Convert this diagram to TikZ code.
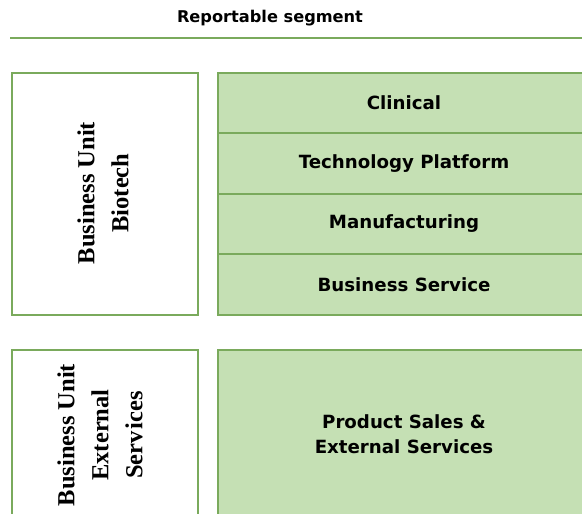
\documentclass[tikz,border=0pt]{standalone}
\usepackage{fontspec}
\setmainfont{Liberation Serif}
\newfontfamily\uifont{DejaVu Sans}
\definecolor{cellfill}{RGB}{197,224,180}
\definecolor{celldraw}{RGB}{122,170,92}
\begin{document}
\begin{tikzpicture}[x=1pt,y=-1pt,
  cell/.style={draw=celldraw,line width=1.3pt,fill=cellfill,rectangle,inner sep=0pt,
    minimum width=372pt,font=\uifont\bfseries\fontsize{18.2}{25}\selectfont,align=center},
  unitbox/.style={draw=celldraw,line width=1.3pt,fill=white,rectangle,inner sep=0pt,minimum width=186pt},
  unittext/.style={rotate=90,align=center,font=\bfseries\fontsize{24.5}{34}\selectfont},
  titletext/.style={font=\uifont\bfseries\fontsize{16.2}{20}\selectfont}]
\useasboundingbox (0,0) rectangle (582,514);
\clip (0,0) rectangle (582,514);
\fill[white] (0,0) rectangle (582,514);
% title and rule
\node[titletext] (title) at (270,18) {Reportable segment};
\coordinate (ruleL) at (10,38);
\coordinate (ruleR) at (590,38);
\draw[celldraw,line width=1.3pt] (ruleL) -- (ruleR);
% biotech unit
\node[unitbox,minimum height=242pt] (bu1) at (105,194) {};
\node[unittext] (bu1t) at (103,193) {Business Unit\\Biotech};
\node[cell,minimum height=60pt] (clin) at (404,103) {Clinical};
\node[cell,minimum height=61pt] (tech) at (404,163.5) {Technology Platform};
\node[cell,minimum height=60pt] (manu) at (404,224) {Manufacturing};
\node[cell,minimum height=61pt] (bser) at (404,284.5) {Business Service};
% external services unit
\node[unitbox,minimum height=180pt] (bu2) at (105,440) {};
\node[unittext] (bu2t) at (100,435) {Business Unit\\External\\Serv\hspace{2pt}ices};
\node[cell,minimum height=168pt] (prod) at (404,434) {Product Sales \&\\External Services};
\end{tikzpicture}
\end{document}
